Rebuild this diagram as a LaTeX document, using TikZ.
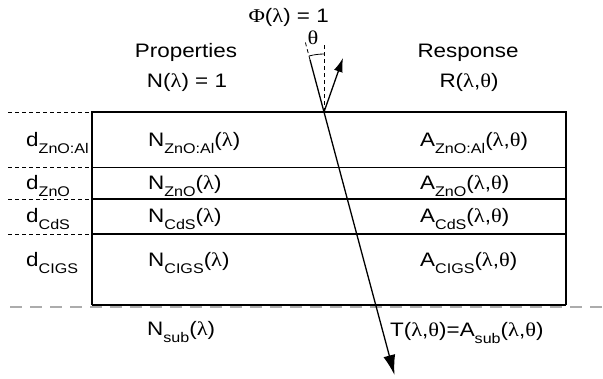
\documentclass[tikz,border=0pt]{standalone}
\usepackage{fontspec}
\setmainfont[FakeStretch=1.15]{Liberation Sans}
\newfontfamily\grk[FakeStretch=1.15]{Liberation Serif}
\usetikzlibrary{arrows.meta}
\newcommand\lam{{\grk λ}}
\newcommand\tht{{\grk θ}}
\newcommand\sbs[1]{\raisebox{-0.36em}{\fontsize{14}{14}\selectfont #1}}
\tikzset{
  lbl/.style={inner sep=0pt, font=\fontsize{19.5}{22}\selectfont},
  box/.style={line width=1.4pt},
  thinsep/.style={line width=1.0pt},
  thicksep/.style={line width=1.8pt},
  guide/.style={line width=0.7pt, dash pattern=on 4pt off 3pt},
  subline/.style={line width=2.4pt, gray!65, dash pattern=on 12pt off 8pt},
  ray/.style={line width=1.3pt},
}
\begin{document}
\begin{tikzpicture}[x=1pt,y=-1pt]
\useasboundingbox (0,0) rectangle (603,378);
% layer coordinates
\coordinate (TL) at (92,112); \coordinate (TR) at (566,112);
\coordinate (L1) at (92,167); \coordinate (R1) at (566,167);
\coordinate (L2) at (92,199); \coordinate (R2) at (566,199);
\coordinate (L3) at (92,234); \coordinate (R3) at (566,234);
\coordinate (BL) at (92,305); \coordinate (BR) at (566,305);
% left guides
\coordinate (G0) at (8,112); \coordinate (G1) at (8,167);
\coordinate (G2) at (8,199); \coordinate (G3) at (8,234);
\draw[guide] (G0) -- (TL);
\draw[guide] (G1) -- (L1);
\draw[guide] (G2) -- (L2);
\draw[guide] (G3) -- (L3);
% substrate dashed line
\coordinate (SL) at (10,307); \coordinate (SR) at (603,307);
\draw[subline] (SL) -- (SR);
% box
\draw[box] (BL) -- (TL) -- (TR) -- (BR);
\draw[thicksep] (BL) -- (BR);
\draw[thinsep] (L1) -- (R1);
\draw[thicksep] (L2) -- (R2);
\draw[thicksep] (L3) -- (R3);
% headings
\node[lbl, anchor=base] (prop) at (186,57) {Properties};
\node[lbl, anchor=base] (resp) at (468,57) {Response};
\node[lbl, anchor=base] (n1) at (187,87) {N(\lam) = 1};
\node[lbl, anchor=base] (r1) at (469,87) {R(\lam,\tht)};
\node[lbl, anchor=base east] (phi) at (329,22) {{\grk Φ}(\lam) = 1};
% rows
\node[lbl, anchor=base west] (d1) at (26,146) {d\sbs{ZnO:Al}};
\node[lbl, anchor=base west] (d2) at (26,189) {d\sbs{ZnO}};
\node[lbl, anchor=base west] (d3) at (26,222) {d\sbs{CdS}};
\node[lbl, anchor=base west] (d4) at (26,266) {d\sbs{CIGS}};
\node[lbl, anchor=base west] (n2) at (148,146) {N\sbs{ZnO:Al}(\lam)};
\node[lbl, anchor=base west] (n3) at (148,189) {N\sbs{ZnO}(\lam)};
\node[lbl, anchor=base west] (n4) at (148,222) {N\sbs{CdS}(\lam)};
\node[lbl, anchor=base west] (n5) at (148,266) {N\sbs{CIGS}(\lam)};
\node[lbl, anchor=base west] (n6) at (147,335) {N\sbs{sub}(\lam)};
\node[lbl, anchor=base west] (a1) at (420,146) {A\sbs{ZnO:Al}(\lam,\tht)};
\node[lbl, anchor=base west] (a2) at (420,189) {A\sbs{ZnO}(\lam,\tht)};
\node[lbl, anchor=base west] (a3) at (420,222) {A\sbs{CdS}(\lam,\tht)};
\node[lbl, anchor=base west] (a4) at (420,266) {A\sbs{CIGS}(\lam,\tht)};
\node[lbl, anchor=base west] (t1) at (390,336) {T(\lam,\tht)=A\sbs{sub}(\lam,\tht)};
% rays
\coordinate (S) at (324,112);
\coordinate (I) at (310,59.8);
\coordinate (Iext) at (305.4,42.5);
\coordinate (V) at (324,43);
\coordinate (Rf) at (343,58);
\coordinate (Tb) at (394.5,375);
\coordinate (Astart) at (309,56);
\draw[guide, line width=0.8pt] (S) -- (V);
\draw[guide, line width=0.8pt] (I) -- (Iext);
\draw[line width=0.8pt] (Astart) arc[start angle=105, end angle=90, radius=58pt];
\node[lbl] (th) at (313,38) {\tht};
\draw[ray, -{Latex[length=20pt,width=12pt]}] (I) -- (Tb);
\draw[ray, -{Latex[length=14pt,width=9pt]}] (S) -- (Rf);
\end{tikzpicture}
\end{document}
